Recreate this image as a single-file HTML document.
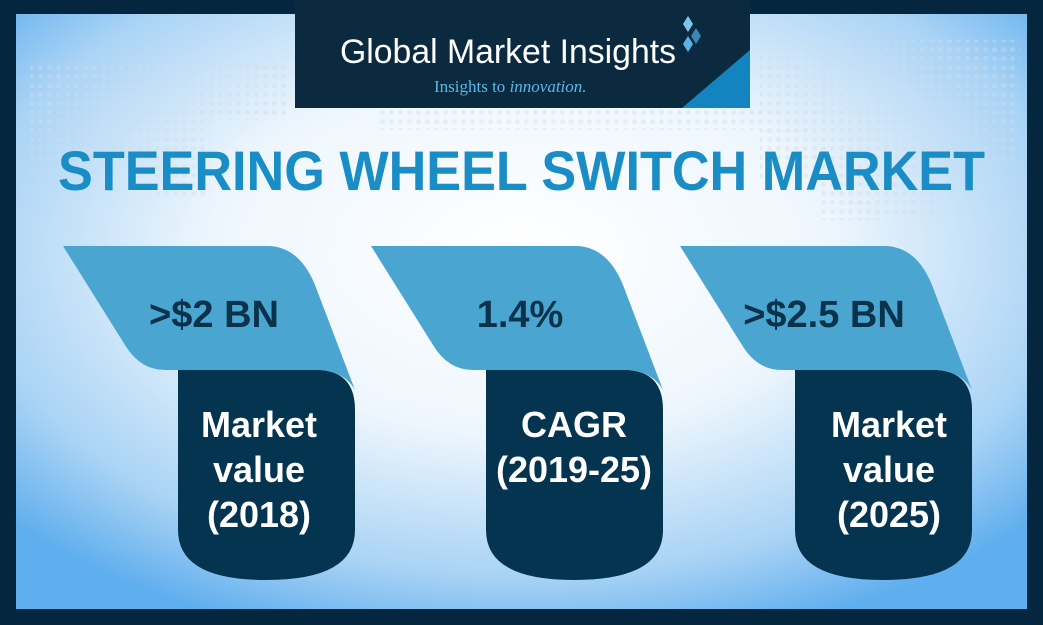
<!DOCTYPE html>
<html><head><meta charset="utf-8"><style>
html,body{margin:0;padding:0;background:#04263f}
svg{display:block}
</style></head><body>
<svg width="1043" height="625" viewBox="0 0 1043 625" xmlns="http://www.w3.org/2000/svg">
<defs>
<radialGradient id="bg" cx="0.5" cy="0.4" r="0.68">
<stop offset="0" stop-color="#ffffff"/>
<stop offset="0.45" stop-color="#eef6fd"/>
<stop offset="0.8" stop-color="#a9d3f5"/>
<stop offset="1" stop-color="#5faeee"/>
</radialGradient>
<pattern id="dots" width="9" height="9" patternUnits="userSpaceOnUse">
<circle cx="4.5" cy="4.5" r="2.4" fill="#cfdde8"/>
</pattern>
</defs>
<rect width="1043" height="625" fill="#04263f"/>
<rect x="16" y="14" width="1011" height="595" fill="url(#bg)"/>
<g opacity="0.4">
<path d="M30,60 h260 v60 h-80 v80 h-60 v-40 h-120z" fill="url(#dots)"/>
<path d="M760,40 h260 v120 h-80 v60 h-120 v-40 h-60z" fill="url(#dots)"/>
<path d="M380,110 h380 v20 h-380z" fill="url(#dots)"/>
</g>
<rect x="295" y="0" width="455" height="108" fill="#0b2a40"/>
<polygon points="750,50 750,108 682,108" fill="#1484c0"/>
<text x="340" y="63" font-family="Liberation Sans, sans-serif" font-size="34" fill="#ffffff" textLength="336" lengthAdjust="spacingAndGlyphs">Global Market Insights</text>
<text x="434" y="92" font-family="Liberation Serif, serif" font-size="17" fill="#5cb6e6">Insights to <tspan font-style="italic">innovation.</tspan></text>
<polygon points="688,16 693,24 688,32 683,24" fill="#7cc7ee"/>
<polygon points="696,28 701,36 696,44 691,36" fill="#3a89b5"/>
<polygon points="688,36 693,44 688,52 683,44" fill="#5fb2e0"/>
<text x="58" y="190" font-family="Liberation Sans, sans-serif" font-weight="bold" font-size="56" fill="#1a8cc6" textLength="927" lengthAdjust="spacingAndGlyphs">STEERING WHEEL SWITCH MARKET</text>
<g>
<path d="M178,370 H320 Q355,372 355,410 V530 Q355,580 266,580 Q178,580 178,530 Z" fill="#04344f"/>
<path d="M63,246 H270 Q300,248 315,285 L355,390 Q345,372 320,370 H165 Q140,370 125,345 Z" fill="#4aa6d1"/>
<text x="214" y="327" text-anchor="middle" font-family="Liberation Sans, sans-serif" font-weight="bold" font-size="38" fill="#0a324b">&gt;$2 BN</text>
<g font-family="Liberation Sans, sans-serif" font-weight="bold" font-size="36" fill="#ffffff" text-anchor="middle">
<text x="259" y="437">Market</text><text x="259" y="482">value</text><text x="259" y="527">(2018)</text></g>
</g>
<g transform="translate(308,0)">
<path d="M178,370 H320 Q355,372 355,410 V530 Q355,580 266,580 Q178,580 178,530 Z" fill="#04344f"/>
<path d="M63,246 H270 Q300,248 315,285 L355,390 Q345,372 320,370 H165 Q140,370 125,345 Z" fill="#4aa6d1"/>
<text x="212" y="327" text-anchor="middle" font-family="Liberation Sans, sans-serif" font-weight="bold" font-size="38" fill="#0a324b">1.4%</text>
<g font-family="Liberation Sans, sans-serif" font-weight="bold" font-size="36" fill="#ffffff" text-anchor="middle">
<text x="266" y="437">CAGR</text><text x="266" y="482">(2019-25)</text></g>
</g>
<g transform="translate(617,0)">
<path d="M178,370 H320 Q355,372 355,410 V530 Q355,580 266,580 Q178,580 178,530 Z" fill="#04344f"/>
<path d="M63,246 H270 Q300,248 315,285 L355,390 Q345,372 320,370 H165 Q140,370 125,345 Z" fill="#4aa6d1"/>
<text x="207" y="327" text-anchor="middle" font-family="Liberation Sans, sans-serif" font-weight="bold" font-size="38" fill="#0a324b">&gt;$2.5 BN</text>
<g font-family="Liberation Sans, sans-serif" font-weight="bold" font-size="36" fill="#ffffff" text-anchor="middle">
<text x="272" y="437">Market</text><text x="272" y="482">value</text><text x="272" y="527">(2025)</text></g>
</g>
</svg>
</body></html>
